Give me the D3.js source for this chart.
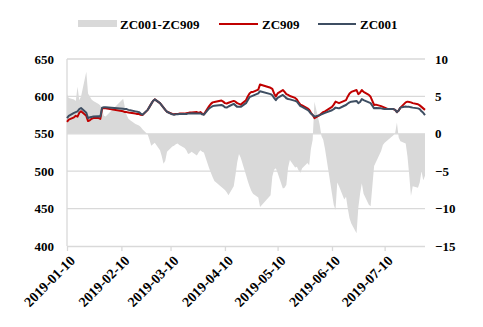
<!DOCTYPE html>
<html>
<head>
<meta charset="utf-8">
<script src="https://cdn.jsdelivr.net/npm/d3@7"></script>
<style>
  html, body { margin: 0; padding: 0; background: #fff; }
  svg { display: block; }
</style>
</head>
<body>
<svg id="chart" width="483" height="327"></svg>
<script>
// Trading dates and daily prices
const dates = [
  "2019-01-10","2019-01-11","2019-01-14","2019-01-15","2019-01-16","2019-01-17","2019-01-18",
  "2019-01-21","2019-01-22","2019-01-23","2019-01-24","2019-01-25","2019-01-28","2019-01-29",
  "2019-01-30","2019-01-31","2019-02-01","2019-02-11","2019-02-12","2019-02-13","2019-02-14",
  "2019-02-15","2019-02-18","2019-02-19","2019-02-20","2019-02-21","2019-02-22","2019-02-25",
  "2019-02-26","2019-02-27","2019-02-28","2019-03-01","2019-03-04","2019-03-05","2019-03-06",
  "2019-03-07","2019-03-08","2019-03-11","2019-03-12","2019-03-13","2019-03-14","2019-03-15",
  "2019-03-18","2019-03-19","2019-03-20","2019-03-21","2019-03-22","2019-03-25","2019-03-26",
  "2019-03-27","2019-03-28","2019-03-29","2019-04-01","2019-04-02","2019-04-03","2019-04-04",
  "2019-04-08","2019-04-09","2019-04-10","2019-04-11","2019-04-12","2019-04-15","2019-04-16",
  "2019-04-17","2019-04-18","2019-04-19","2019-04-22","2019-04-23","2019-04-24","2019-04-25",
  "2019-04-26","2019-04-29","2019-04-30","2019-05-06","2019-05-07","2019-05-08","2019-05-09",
  "2019-05-10","2019-05-13","2019-05-14","2019-05-15","2019-05-16","2019-05-17","2019-05-20",
  "2019-05-21","2019-05-22","2019-05-23","2019-05-24","2019-05-27","2019-05-28","2019-05-29",
  "2019-05-30","2019-05-31","2019-06-03","2019-06-04","2019-06-05","2019-06-06","2019-06-10",
  "2019-06-11","2019-06-12","2019-06-13","2019-06-14","2019-06-17","2019-06-18","2019-06-19",
  "2019-06-20","2019-06-21","2019-06-24","2019-06-25","2019-06-26","2019-06-27","2019-06-28",
  "2019-07-01","2019-07-02","2019-07-03","2019-07-04","2019-07-05","2019-07-08","2019-07-09",
  "2019-07-10","2019-07-11","2019-07-12","2019-07-15","2019-07-16","2019-07-17","2019-07-18",
  "2019-07-19","2019-07-22","2019-07-23","2019-07-24","2019-07-25","2019-07-26","2019-07-29",
  "2019-07-30","2019-07-31","2019-08-01","2019-08-02"
];

const zc909 = [
  566,569,572,574,573,578,580,
  574,567,568,570,571,571,570,
  584,584,584,580,579,579,578.5,
  578,577,576.5,576.5,575.5,575,582,
  586,590,594,596,591,588,585,
  582,579.5,576.5,576,576.5,576.5,577,
  577,577.5,578,578.5,578.5,579,578,
  579,577,576,587,590,592,592.5,
  594.5,593,591,590.5,591.5,594,593,
  591,590,589,595,600,604,606,
  606,609,616,611.5,610,604,600,
  604,608.5,606,603,602,600.5,598,
  596,592,589,588,584,582,578,
  575,571,575,577,579,580,586,
  589,593,592,591,594,595,600,
  604,606,608.5,603,605,608.5,606,
  602,599.5,594,588.5,589,587,586,
  585,584,583,583,582,579,581,
  585,592,593,592.5,592,591,589.5,
  588,586,584,582
];

const zc001 = [
  571,574,578,579,580,583,584.5,
  578,571,572,572.5,573,573.5,573,
  585,585.5,585.5,583.5,583,583,582,
  581.5,580,579.5,579,577,575.5,582,
  586,590,594,596,591,588,585,
  582,579.5,576,575.5,576,576,576.5,
  576.5,576.5,577,577,577.5,577,577,
  577.5,576,575.5,584,585.5,587,587.5,
  588.5,587.5,585.5,585,586.5,590,588,
  586,586,586,591,595,599,600,
  601,604,607,603,601.5,598,595,
  598,602,600,597.5,596.5,596,594,
  593,590,587,586,582,580,577,
  575,573,575,576,577,578,581.5,
  583,585,584.5,584,587.5,588.5,590.5,
  592,593,594,591,592.5,596.5,595,
  592,591,587.5,584,584.5,584,583.5,
  583,583,583,583,582,579,581,
  585,586.5,586,586,585.5,585,584,
  583,580,578,575
];

// ZC001 minus ZC909, right axis
const spread = [
  5.3,4.8,4.6,4.4,6.3,4.5,5.0,
  8.3,5.4,5.0,4.6,4.4,4.0,3.8,
  3.2,2.4,2.3,4.7,3.5,2.5,2.0,
  1.8,1.3,1.2,1.1,0.9,0.6,-0.1,
  -0.8,-1.6,-1.4,-1.2,-2.2,-3.0,-4.0,
  -3.6,-2.4,-1.7,-1.6,-1.4,-1.3,-1.5,
  -1.9,-2.2,-2.7,-2.6,-2.4,-2.9,-2.5,
  -2.2,-2.4,-2.5,-4.6,-5.2,-5.8,-6.3,
  -7.1,-7.3,-7.5,-7.8,-8.2,-7.0,-5.5,
  -3.8,-2.7,-3.2,-5.5,-6.3,-7.0,-7.6,
  -8.0,-8.5,-9.8,-8.2,-5.7,-4.8,-4.6,
  -5.2,-7.3,-7.2,-6.8,-4.5,-3.5,-4.5,
  -4.4,-4.9,-5.2,-4.6,-3.9,-4.2,-2.0,
  -0.8,4.3,1.2,-0.3,-0.8,-2.0,-8.0,
  -9.5,-10.2,-6.5,-7.0,-8.8,-8.4,-10.0,
  -11.3,-12.0,-13.3,-9.9,-8.0,-6.6,-8.0,
  -9.5,-9.7,-7.0,-4.3,-3.8,-2.3,-1.5,
  -1.2,-1.0,-0.8,-0.2,0.1,1.5,-0.5,
  -1.0,-1.3,-3.0,-5.5,-8.3,-7.0,-7.2,
  -6.5,-5.0,-6.2,-5.6
];

const leftTicks = [400, 450, 500, 550, 600, 650];
const rightTicks = [-15, -10, -5, 0, 5, 10];
const dateTicks = ["2019-01-10","2019-02-10","2019-03-10","2019-04-10","2019-05-10","2019-06-10","2019-07-10"];
const seriesNames = ["ZC001-ZC909", "ZC909", "ZC001"];

const colors = { spread: "#d9d9d9", zc909: "#c00000", zc001: "#3e4e62", grid: "#d9d9d9" };
const serif = '"Liberation Serif", "Times New Roman", serif';

const parse = d3.timeParse("%Y-%m-%d");
const rows = dates.map((d, i) => ({ date: parse(d), a: zc909[i], b: zc001[i], s: spread[i] }));

const plot = { left: 67, right: 425, top: 59, bottom: 246 };
const svg = d3.select("#chart");

const x = d3.scaleTime()
  .domain([parse(dates[0]), parse(dates[dates.length - 1])])
  .range([plot.left, plot.right]);
const yL = d3.scaleLinear().domain([400, 650]).range([plot.bottom, plot.top]);
const yR = d3.scaleLinear().domain([-15, 10]).range([plot.bottom, plot.top]);

// horizontal gridlines
svg.append("g")
  .selectAll("line")
  .data(leftTicks.filter(v => v !== 400))
  .join("line")
  .attr("x1", plot.left).attr("x2", plot.right)
  .attr("y1", d => yL(d)).attr("y2", d => yL(d))
  .attr("stroke", colors.grid).attr("stroke-width", 1.3);

// spread area against the right axis
const area = d3.area()
  .x(d => x(d.date))
  .y0(yR(0))
  .y1(d => yR(d.s));
svg.append("path").datum(rows)
  .attr("d", area)
  .attr("fill", colors.spread);

// left axis line and bottom axis
svg.append("line")
  .attr("x1", plot.left).attr("x2", plot.left)
  .attr("y1", plot.top).attr("y2", plot.bottom)
  .attr("stroke", colors.grid).attr("stroke-width", 1.3);

const xAxis = d3.axisBottom(x)
  .tickValues(dateTicks.map(parse))
  .tickSize(5)
  .tickFormat(d3.timeFormat("%Y-%m-%d"));
const gx = svg.append("g")
  .attr("transform", `translate(0,${plot.bottom})`)
  .call(xAxis);
gx.attr("font-family", serif).attr("font-size", 14).attr("font-weight", "bold");
gx.select(".domain").attr("stroke", colors.grid).attr("stroke-width", 1.3)
  .attr("d", `M${plot.left},0.5H${plot.right}`);
gx.selectAll(".tick line").attr("stroke", colors.grid).attr("stroke-width", 1.3);
gx.selectAll(".tick text")
  .attr("fill", "#000")
  .attr("text-anchor", "end")
  .attr("transform", "translate(5,12) rotate(-45)")
  .attr("x", 0).attr("y", 0).attr("dy", "0.35em");

// lines against the left axis
const lineA = d3.line().x(d => x(d.date)).y(d => yL(d.a));
const lineB = d3.line().x(d => x(d.date)).y(d => yL(d.b));
svg.append("path").datum(rows)
  .attr("d", lineA).attr("fill", "none")
  .attr("stroke", colors.zc909).attr("stroke-width", 2).attr("stroke-linejoin", "round");
svg.append("path").datum(rows)
  .attr("d", lineB).attr("fill", "none")
  .attr("stroke", colors.zc001).attr("stroke-width", 2).attr("stroke-linejoin", "round");

// left axis labels
const gl = svg.append("g")
  .attr("transform", `translate(${plot.left},0)`)
  .call(d3.axisLeft(yL).tickValues(leftTicks).tickSize(0).tickPadding(13));
gl.attr("font-family", serif).attr("font-size", 13).attr("font-weight", "bold");
gl.select(".domain").remove();
gl.selectAll(".tick text").attr("fill", "#000");

// right axis labels
const gr = svg.append("g")
  .attr("transform", `translate(${plot.right},0)`)
  .call(d3.axisRight(yR).tickValues(rightTicks).tickSize(0).tickPadding(10));
gr.attr("font-family", serif).attr("font-size", 13).attr("font-weight", "bold");
gr.select(".domain").remove();
gr.selectAll(".tick text").attr("fill", "#000");

// legend
const legend = svg.append("g").attr("transform", "translate(0,24)")
  .attr("font-family", serif).attr("font-size", 13).attr("font-weight", "bold");
legend.append("rect").attr("x", 78).attr("y", -4).attr("width", 39).attr("height", 7).attr("fill", colors.spread);
legend.append("text").attr("x", 120).attr("y", 0).attr("dy", "0.35em").text(seriesNames[0]);
legend.append("line").attr("x1", 219).attr("x2", 258).attr("y1", 0).attr("y2", 0)
  .attr("stroke", colors.zc909).attr("stroke-width", 2);
legend.append("text").attr("x", 262).attr("y", 0).attr("dy", "0.35em").text(seriesNames[1]);
legend.append("line").attr("x1", 318).attr("x2", 356).attr("y1", 0).attr("y2", 0)
  .attr("stroke", colors.zc001).attr("stroke-width", 2);
legend.append("text").attr("x", 360).attr("y", 0).attr("dy", "0.35em").text(seriesNames[2]);
</script>
</body>
</html>
